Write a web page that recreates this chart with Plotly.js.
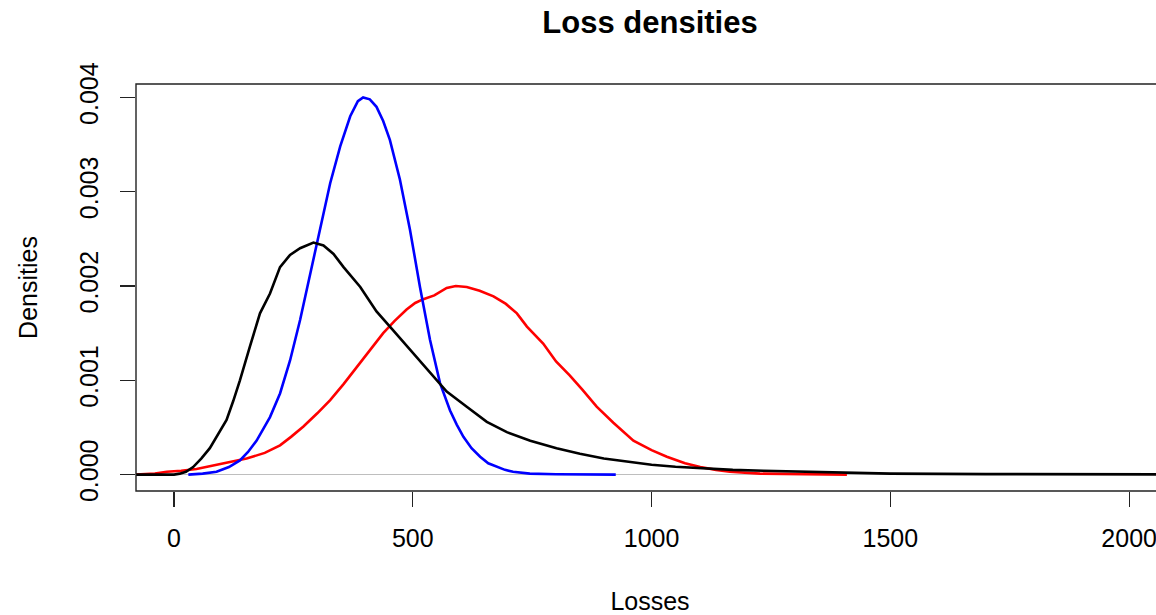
<!DOCTYPE html>
<html>
<head>
<meta charset="utf-8">
<script src="https://cdn.plot.ly/plotly-3.0.1.min.js"></script>
<style>
  html, body { margin: 0; padding: 0; overflow: hidden; background: #fff; }
  #chart { width: 1170px; height: 615px; }
</style>
</head>
<body>
<div id="chart"></div>
<script>
// ---- Data ----
const blackX = [-80, 0, 12, 25, 40, 57, 75, 92, 110, 124, 138, 159, 180, 201, 222, 243, 264, 292, 313, 334, 355, 390, 424, 459, 508, 540, 571, 613, 655, 697, 746, 801, 850, 900, 955, 1000, 1050, 1101, 1170, 1234, 1320, 1409, 1500, 1700, 1900, 2100];
const blackY = [0, 0, 0.00001, 0.00003, 0.00008, 0.00017, 0.00028, 0.00042, 0.00058, 0.00078, 0.001, 0.00136, 0.00171, 0.00192, 0.0022, 0.00233, 0.0024, 0.00246, 0.00243, 0.00234, 0.0022, 0.00199, 0.00173, 0.00153, 0.00125, 0.00106, 0.00088, 0.00072, 0.00056, 0.00045, 0.00036, 0.00028, 0.00022, 0.00017, 0.00013, 0.000105, 0.000083, 0.000066, 0.00005, 0.00004, 0.00003, 0.000017, 0.00001, 0.000005, 0.000003, 0.000002];

const blueX = [30, 60, 89, 115, 138, 155, 173, 187, 201, 222, 243, 264, 285, 306, 327, 348, 369, 385, 396, 410, 424, 438, 452, 473, 494, 515, 536, 557, 578, 592, 606, 623, 641, 658, 676, 693, 710, 745, 800, 925];
const blueY = [0, 0.00001, 0.00003, 0.00008, 0.00015, 0.00024, 0.00036, 0.00048, 0.00061, 0.00086, 0.00121, 0.00164, 0.00213, 0.00263, 0.00309, 0.00348, 0.0038, 0.00396, 0.004, 0.00398, 0.0039, 0.00375, 0.00355, 0.00313, 0.0026, 0.00199, 0.00143, 0.00097, 0.00068, 0.00053, 0.0004, 0.00028, 0.00019, 0.00012, 0.00008, 0.00005, 0.00003, 0.00001, 0.000003, 0];

const redX = [-80, -40, -15, 15, 47, 75, 103, 152, 190, 222, 245, 271, 300, 327, 355, 383, 410, 438, 462, 487, 505, 522, 545, 571, 590, 613, 640, 669, 695, 718, 739, 773, 800, 829, 855, 885, 920, 948, 962, 1000, 1032, 1070, 1102, 1135, 1164, 1227, 1300, 1409];
const redY = [0, 0.00001, 0.00003, 0.00004, 0.00006, 0.00009, 0.00012, 0.00017, 0.00023, 0.00031, 0.0004, 0.00051, 0.00065, 0.00079, 0.00096, 0.00114, 0.00132, 0.0015, 0.00163, 0.00175, 0.00182, 0.00186, 0.0019, 0.00198, 0.002, 0.00199, 0.00195, 0.00189, 0.00181, 0.00171, 0.00157, 0.00139, 0.0012, 0.00105, 0.0009, 0.00072, 0.00055, 0.00042, 0.00036, 0.00026, 0.00019, 0.00012, 0.00008, 0.00005, 0.00003, 0.00001, 0.000003, 0];

const xTicks = [0, 500, 1000, 1500, 2000];
const yTicks = [0, 0.001, 0.002, 0.003, 0.004];
const yTickLabels = ["0.000", "0.001", "0.002", "0.003", "0.004"];

const titleText = "Loss densities";
const xLabel = "Losses";
const yLabel = "Densities";

// ---- Drawing ----
const FONT = "Liberation Sans, Arial, Helvetica, sans-serif";
const LW = 2.6;

const traces = [
  { x: redX, y: redY, type: "scatter", mode: "lines", name: "red", line: { color: "#ff0000", width: LW } },
  { x: blueX, y: blueY, type: "scatter", mode: "lines", name: "blue", line: { color: "#0000ff", width: LW } },
  { x: blackX, y: blackY, type: "scatter", mode: "lines", name: "black", line: { color: "#000000", width: LW } }
];

const layout = {
  width: 1170,
  height: 615,
  margin: { l: 136, r: 6, t: 84, b: 124 },
  paper_bgcolor: "#ffffff",
  plot_bgcolor: "#ffffff",
  showlegend: false,
  font: { family: FONT, color: "#000000", size: 25 },
  title: {
    text: "<b>" + titleText + "</b>",
    font: { family: FONT, size: 31, color: "#000000" },
    x: 0.5, xref: "paper", xanchor: "center",
    y: 1 - 22 / 615, yref: "container", yanchor: "middle"
  },
  xaxis: {
    range: [-79.6, 2073],
    tickvals: xTicks,
    ticktext: xTicks.map(String),
    ticks: "outside", ticklen: 15, tickwidth: 1.2, tickcolor: "#222",
    ticklabelstandoff: 10,
    tickfont: { family: FONT, size: 25, color: "#000" },
    showgrid: false, zeroline: false, showline: false,
    title: { text: xLabel, font: { family: FONT, size: 25, color: "#000" }, standoff: 41 }
  },
  yaxis: {
    range: [-0.000174, 0.004142],
    tickvals: yTicks,
    ticktext: yTickLabels,
    tickangle: -90,
    ticks: "outside", ticklen: 15, tickwidth: 1.2, tickcolor: "#222",
    ticklabelstandoff: 12,
    tickfont: { family: FONT, size: 25, color: "#000" },
    showgrid: false,
    zeroline: true, zerolinecolor: "#bebebe", zerolinewidth: 1.2,
    showline: false,
    title: { text: yLabel, font: { family: FONT, size: 25, color: "#000" }, standoff: 30 }
  },
  shapes: [
    { type: "rect", xref: "paper", yref: "paper", x0: 0, x1: 1, y0: 0, y1: 1,
      line: { color: "#222", width: 1.4 }, fillcolor: "rgba(0,0,0,0)", layer: "above" }
  ]
};

Plotly.newPlot("chart", traces, layout, { staticPlot: true, displayModeBar: false });
</script>
</body>
</html>
